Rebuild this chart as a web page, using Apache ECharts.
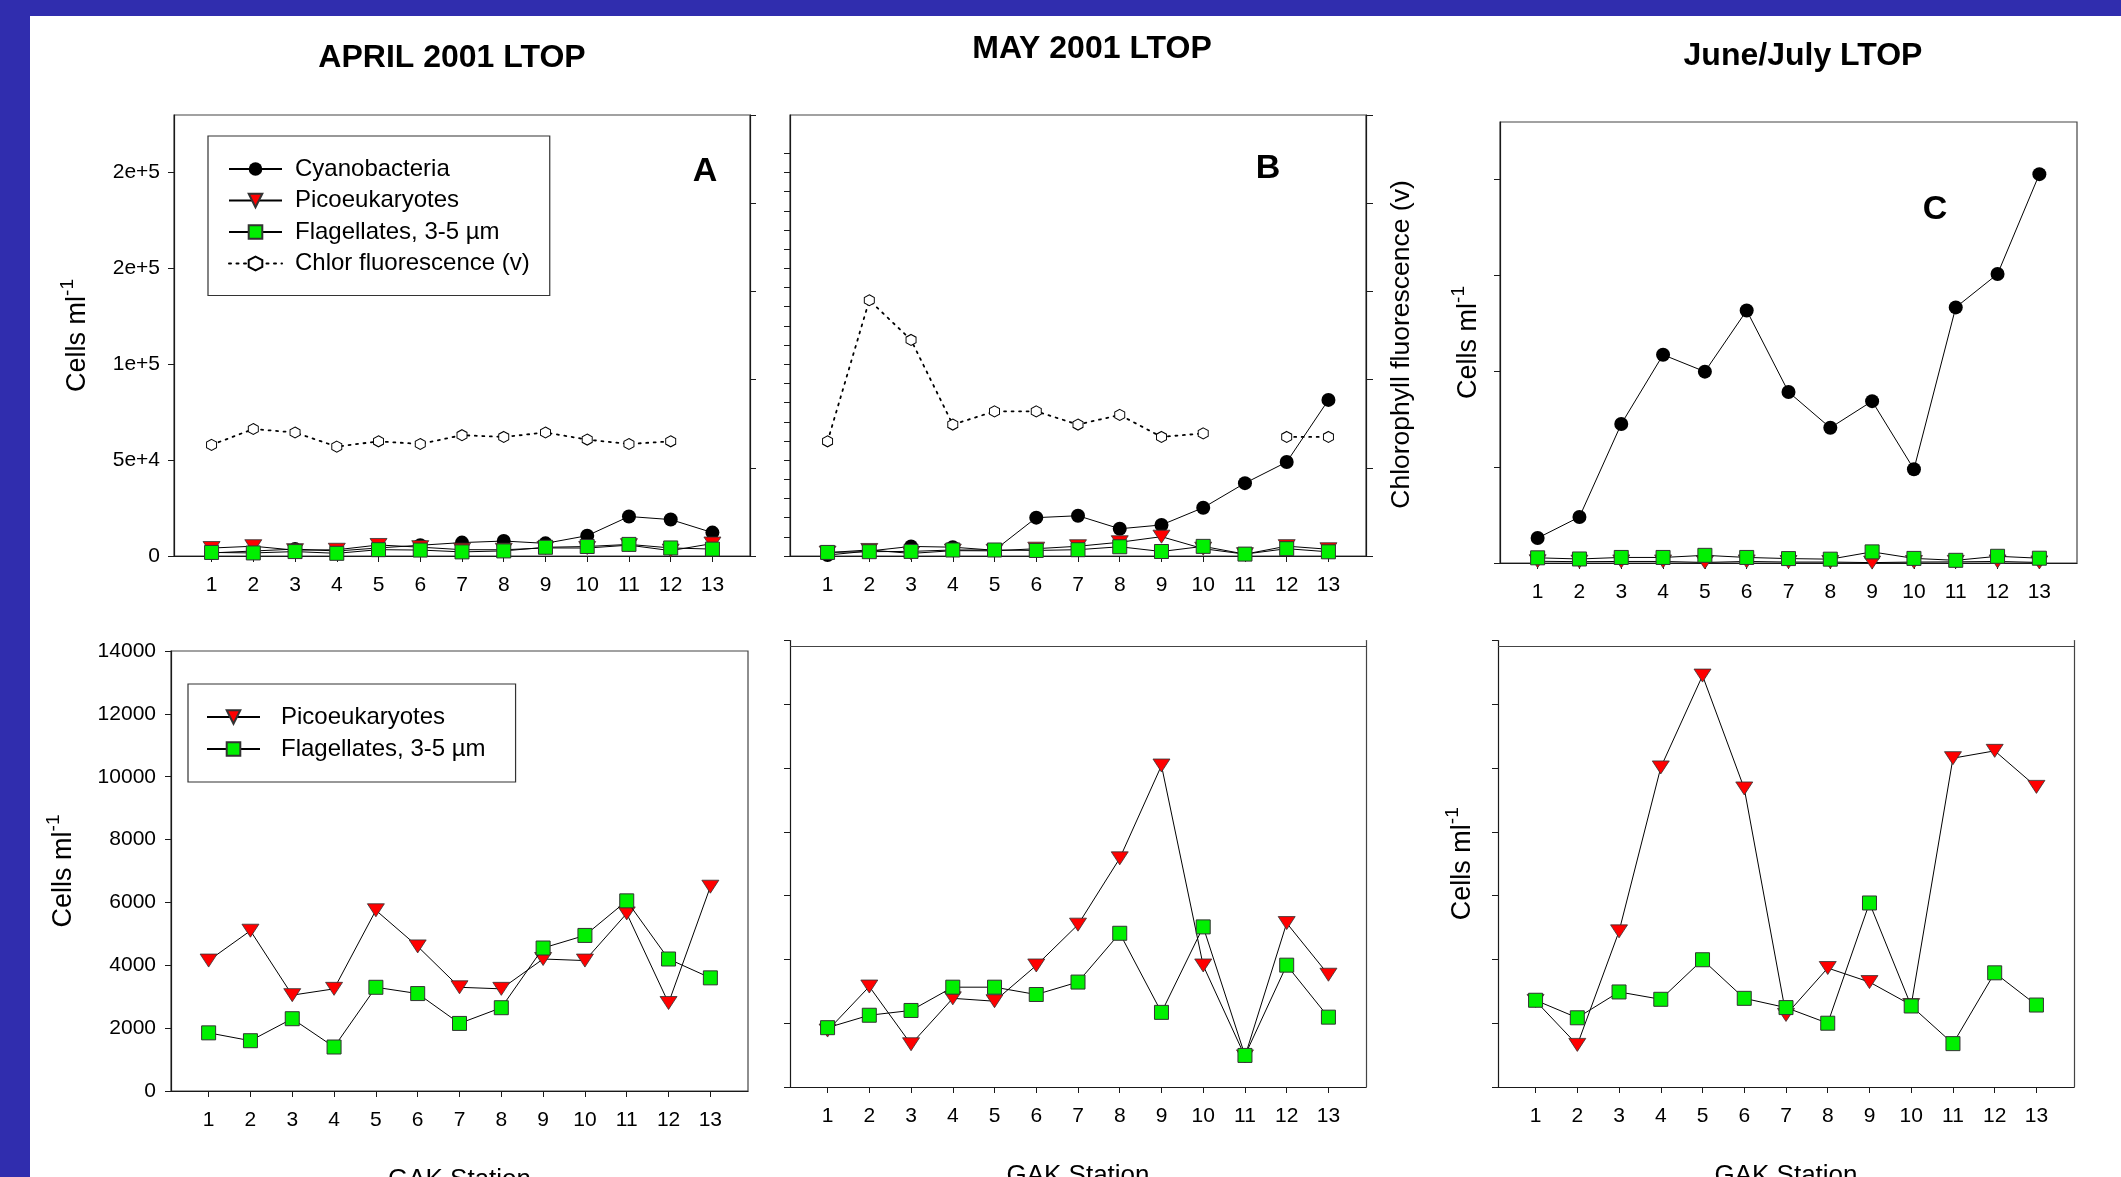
<!DOCTYPE html>
<html><head><meta charset="utf-8">
<script src="https://cdn.jsdelivr.net/npm/echarts@6/dist/echarts.min.js"></script>
<style>html,body{margin:0;padding:0;background:#fff;}#c{width:2121px;height:1177px;}</style>
</head><body><div id="c"></div>
<script>
// ---------- data ----------
const stations = [1, 2, 3, 4, 5, 6, 7, 8, 9, 10, 11, 12, 13];
const aprilTickLabels = ['0', '5e+4', '1e+5', '2e+5', '2e+5'];
const cellTicks = [0, 50000, 100000, 150000, 200000];
const mayMinorTicks = [0,10000,20000,30000,40000,50000,60000,70000,80000,90000,100000,110000,120000,130000,140000,150000,160000,170000,180000,190000,200000,210000];
const bottomTicks = [0, 2000, 4000, 6000, 8000, 10000, 12000, 14000];
const chlorTicks = [0, 1, 2, 3, 4, 5];

const aprCyano = [1600, 2600, 3600, 2600, 4200, 5600, 7000, 7800, 6600, 10600, 20600, 19000, 12200];
const aprPico  = [4150, 5100, 3050, 3250, 5750, 4600, 3300, 3250, 4200, 4150, 5650, 2800, 6500];
const aprFlag  = [1850, 1600, 2300, 1400, 3300, 3100, 2150, 2650, 4550, 4950, 6050, 4200, 3600];
const aprChlor = [1.26, 1.44, 1.40, 1.24, 1.30, 1.27, 1.37, 1.35, 1.40, 1.32, 1.27, 1.30, null];

const mayCyano = [500, 2600, 5000, 4600, 3000, 20000, 21000, 14200, 16200, 25200, 38000, 49000, 81400];
const mayPico  = [1770, 3150, 1340, 2780, 2690, 3810, 5090, 7170, 10080, 3810, 960, 5140, 3520];
const mayFlag  = [1860, 2250, 2400, 3130, 3130, 2900, 3290, 4820, 2340, 5020, 990, 3820, 2190];
const mayChlor = [1.30, 2.90, 2.45, 1.49, 1.64, 1.64, 1.49, 1.60, 1.35, 1.39, null, 1.35, 1.35];

const junCyano   = [13000, 24000, 72500, 108600, 99800, 131700, 89200, 70500, 84400, 48900, 133300, 150700, 202800];
const junPicoTop = [900, 700, 800, 800, 300, 800, 500, 500, 200, 500, 600, 800, 300];
const junFlagTop = [2700, 2100, 2900, 2900, 4000, 2900, 2300, 2000, 5800, 2400, 1400, 3500, 2500];
const junPico    = [2700, 1320, 4880, 10020, 12900, 9360, 2260, 3730, 3290, 2570, 10310, 10540, 9410];
const junFlag    = [2720, 2170, 2980, 2750, 3990, 2780, 2490, 2000, 5770, 2540, 1360, 3580, 2570];

// ---------- helpers ----------
const FONT = 'Liberation Sans';
const AX = '#1a1a1a';
const BOX = '#444';
function pairs(arr) { return stations.map((s, i) => [s, arr[i] == null ? '-' : arr[i]]); }

function xAx(gi, withName) {
  return {
    type: 'value', gridIndex: gi, min: 0.1, max: 13.9,
    axisLine: { show: true, onZero: false, lineStyle: { color: AX, width: 1.2 } },
    axisTick: { show: true, customValues: stations, length: 6, lineStyle: { color: AX, width: 1 } },
    axisLabel: { show: true, customValues: stations, fontSize: 21, color: '#000', margin: 19, fontFamily: FONT },
    splitLine: { show: false },
    name: withName ? 'GAK Station' : '', nameLocation: 'middle', nameGap: 76,
    nameTextStyle: { fontSize: 26, color: '#000', fontFamily: FONT }
  };
}
const cellsName = '{a|Cells ml}{s|-1}';
const cellsRich = {
  a: { fontSize: 27, fontFamily: FONT, color: '#000', lineHeight: 40 },
  s: { fontSize: 19, fontFamily: FONT, color: '#000', verticalAlign: 'top', lineHeight: 19 }
};
function yAx(gi, o) {
  return Object.assign({
    type: 'value', gridIndex: gi, position: 'left',
    axisLine: { show: true, onZero: false, lineStyle: { color: AX, width: 1.2 } },
    axisTick: { show: true, length: 6, lineStyle: { color: AX, width: 1 } },
    axisLabel: { show: false },
    splitLine: { show: false }
  }, o);
}

const symHex = 'path://M0,-6 L5.2,-3 L5.2,3 L0,6 L-5.2,3 L-5.2,-3 Z';
function cyanoS(xi, yi, arr) {
  return { type: 'line', name: 'Cyanobacteria', xAxisIndex: xi, yAxisIndex: yi, data: pairs(arr),
    symbol: 'circle', symbolSize: 14, itemStyle: { color: '#000' },
    lineStyle: { color: '#000', width: 1 }, z: 2 };
}
function picoS(xi, yi, arr) {
  return { type: 'line', name: 'Picoeukaryotes', xAxisIndex: xi, yAxisIndex: yi, data: pairs(arr),
    symbol: 'triangle', symbolRotate: 180, symbolSize: [17, 13],
    itemStyle: { color: '#ff0000', borderColor: '#333', borderWidth: 0.8 },
    lineStyle: { color: '#000', width: 1 }, z: 3 };
}
function flagS(xi, yi, arr, extra) {
  return Object.assign({ type: 'line', name: 'Flagellates, 3-5 µm', xAxisIndex: xi, yAxisIndex: yi, data: pairs(arr),
    symbol: 'rect', symbolSize: 14,
    itemStyle: { color: '#00f000', borderColor: '#333', borderWidth: 1 },
    lineStyle: { color: '#000', width: 1 }, z: 4 }, extra || {});
}
function chlorS(xi, yi, arr) {
  return { type: 'line', name: 'Chlor fluorescence (v)', xAxisIndex: xi, yAxisIndex: yi, data: pairs(arr),
    symbol: symHex, symbolSize: [10, 11], connectNulls: false,
    itemStyle: { color: '#fff', borderColor: '#000', borderWidth: 1 },
    lineStyle: { color: '#000', width: 1.8, type: [2, 5.5], cap: 'round' }, z: 5 };
}
const topLine = { silent: true, symbol: 'none', label: { show: false },
  lineStyle: { color: BOX, width: 1.2, type: 'solid' }, data: [{ yAxis: 13830 }] };

const gridBox = { show: true, borderColor: BOX, borderWidth: 1.2, backgroundColor: 'transparent', outerBoundsMode: 'none' };

const option = {
  animation: false,
  textStyle: { fontFamily: FONT },
  grid: [
    Object.assign({ left: 174, top: 115, width: 576, height: 441 }, gridBox),
    Object.assign({ left: 790, top: 115, width: 576, height: 441 }, gridBox),
    Object.assign({ left: 1500, top: 122, width: 577, height: 441 }, gridBox),
    Object.assign({ left: 171, top: 651, width: 577, height: 440 }, gridBox),
    { left: 790, top: 640.5, width: 576, height: 446.5, show: false, outerBoundsMode: 'none' },
    { left: 1498, top: 640.5, width: 576, height: 446.5, show: false, outerBoundsMode: 'none' }
  ],
  xAxis: [xAx(0, false), xAx(1, false), xAx(2, false), xAx(3, true), xAx(4, true), xAx(5, true)],
  yAxis: [
    // 0: April top, cells
    yAx(0, { min: 0, max: 230000,
      axisTick: { show: true, length: 6, customValues: cellTicks, lineStyle: { color: AX } },
      axisLabel: { show: true, customValues: cellTicks, fontSize: 21, color: '#000', margin: 14, fontFamily: FONT,
        formatter: v => aprilTickLabels[Math.round(v / 50000)] },
      name: cellsName, nameLocation: 'middle', nameGap: 76, nameRotate: 90,
      nameTextStyle: { rich: cellsRich } }),
    // 1: April top, chlor (right)
    yAx(0, { position: 'right', min: 0, max: 5,
      axisTick: { show: true, length: 6, customValues: chlorTicks, lineStyle: { color: AX } } }),
    // 2: May top, cells
    yAx(1, { min: 0, max: 230000,
      axisTick: { show: true, length: 6, customValues: mayMinorTicks, lineStyle: { color: AX } } }),
    // 3: May top, chlor (right)
    yAx(1, { position: 'right', min: 0, max: 5,
      axisTick: { show: true, length: 7, customValues: chlorTicks, lineStyle: { color: AX } },
      name: 'Chlorophyll fluorescence (v)', nameLocation: 'middle', nameGap: 22, nameRotate: 90,
      nameTextStyle: { fontSize: 26.5, color: '#000', fontFamily: FONT, padding: [0, 18, 0, 0] } }),
    // 4: June top, cells
    yAx(2, { min: 0, max: 230000,
      axisTick: { show: true, length: 6, customValues: cellTicks, lineStyle: { color: AX } },
      name: cellsName, nameLocation: 'middle', nameGap: 11, nameRotate: 90,
      nameTextStyle: { rich: cellsRich } }),
    // 5: April bottom
    yAx(3, { min: 0, max: 14000,
      axisTick: { show: true, length: 6, customValues: bottomTicks, lineStyle: { color: AX } },
      axisLabel: { show: true, customValues: bottomTicks, fontSize: 21, color: '#000', margin: 15, fontFamily: FONT,
        formatter: v => String(v) },
      name: cellsName, nameLocation: 'middle', nameGap: 87, nameRotate: 90,
      nameTextStyle: { rich: cellsRich } }),
    // 6: May bottom
    yAx(4, { min: 0, max: 14000,
      axisTick: { show: true, length: 6, customValues: bottomTicks, lineStyle: { color: AX } } }),
    // 7: May bottom right border
    yAx(4, { position: 'right', min: 0, max: 14000, axisTick: { show: false },
      axisLine: { show: true, onZero: false, lineStyle: { color: BOX, width: 1.2 } } }),
    // 8: June bottom
    yAx(5, { min: 0, max: 14000,
      axisTick: { show: true, length: 6, customValues: bottomTicks, lineStyle: { color: AX } },
      name: cellsName, nameLocation: 'middle', nameGap: 15, nameRotate: 90,
      nameTextStyle: { rich: cellsRich } }),
    // 9: June bottom right border
    yAx(5, { position: 'right', min: 0, max: 14000, axisTick: { show: false },
      axisLine: { show: true, onZero: false, lineStyle: { color: BOX, width: 1.2 } } })
  ],
  legend: [
    { orient: 'vertical', left: 208, top: 136, padding: [21, 20, 20, 20],
      itemWidth: 53, itemHeight: 17, itemGap: 7.5,
      borderColor: '#333', borderWidth: 1.2, backgroundColor: '#fff',
      textStyle: { fontSize: 24, color: '#000', fontFamily: FONT, padding: [0, 0, 0, 8], lineHeight: 23 },
      data: ['Cyanobacteria', 'Picoeukaryotes', 'Flagellates, 3-5 µm', 'Chlor fluorescence (v)'] },
    { orient: 'vertical', left: 188, top: 684, padding: [21, 30, 21, 18],
      itemWidth: 53, itemHeight: 17, itemGap: 8,
      borderColor: '#333', borderWidth: 1.2, backgroundColor: '#fff',
      textStyle: { fontSize: 24, color: '#000', fontFamily: FONT, padding: [0, 0, 0, 16], lineHeight: 23 },
      data: ['Picoeukaryotes', 'Flagellates, 3-5 µm'] }
  ],
  series: [
    cyanoS(0, 0, aprCyano), picoS(0, 0, aprPico), flagS(0, 0, aprFlag), chlorS(0, 1, aprChlor),
    cyanoS(1, 2, mayCyano), picoS(1, 2, mayPico), flagS(1, 2, mayFlag), chlorS(1, 3, mayChlor),
    cyanoS(2, 4, junCyano), picoS(2, 4, junPicoTop), flagS(2, 4, junFlagTop),
    picoS(3, 5, aprPico), flagS(3, 5, aprFlag),
    picoS(4, 6, mayPico), flagS(4, 6, mayFlag, { markLine: topLine }),
    picoS(5, 8, junPico), flagS(5, 8, junFlag, { markLine: topLine })
  ],
  graphic: [
    { type: 'rect', shape: { x: 0, y: 0, width: 30, height: 1177 }, style: { fill: '#302DAE' }, z: -1, silent: true },
    { type: 'rect', shape: { x: 0, y: 0, width: 2121, height: 16 }, style: { fill: '#302DAE' }, z: -1, silent: true },
    { type: 'text', x: 452, y: 58, style: { text: 'APRIL 2001 LTOP', font: 'bold 32px "Liberation Sans"', fill: '#000', align: 'center', verticalAlign: 'middle' } },
    { type: 'text', x: 1092, y: 49, style: { text: 'MAY 2001 LTOP', font: 'bold 32px "Liberation Sans"', fill: '#000', align: 'center', verticalAlign: 'middle' } },
    { type: 'text', x: 1803, y: 56, style: { text: 'June/July LTOP', font: 'bold 32px "Liberation Sans"', fill: '#000', align: 'center', verticalAlign: 'middle' } },
    { type: 'text', x: 705, y: 172, style: { text: 'A', font: 'bold 34px "Liberation Sans"', fill: '#000', align: 'center', verticalAlign: 'middle' } },
    { type: 'text', x: 1268, y: 169, style: { text: 'B', font: 'bold 34px "Liberation Sans"', fill: '#000', align: 'center', verticalAlign: 'middle' } },
    { type: 'text', x: 1935, y: 210, style: { text: 'C', font: 'bold 34px "Liberation Sans"', fill: '#000', align: 'center', verticalAlign: 'middle' } }
  ]
};
const chart = echarts.init(document.getElementById('c'), null, { renderer: 'canvas', width: 2121, height: 1177 });
chart.setOption(option);
</script>
</body></html>
